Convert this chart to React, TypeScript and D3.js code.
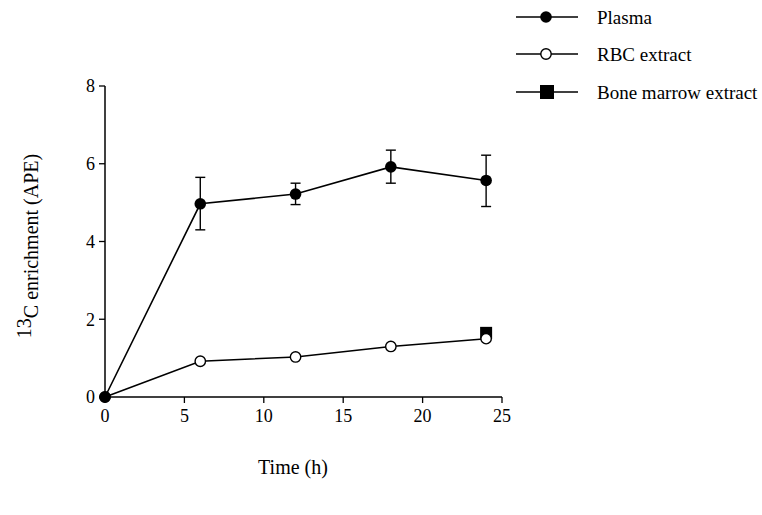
import React from 'react';
import * as d3 from 'd3';

// time points (h)
const times = [0, 6, 12, 18, 24];
const plasma = [0, 4.97, 5.22, 5.92, 5.57];
const plasmaHi = [0, 5.65, 5.5, 6.35, 6.22];
const plasmaLo = [0, 4.3, 4.95, 5.5, 4.9];
const rbc = [0, 0.92, 1.03, 1.3, 1.5];
const marrowTime = [24];
const marrow = [1.65];
const xTicks = [0, 5, 10, 15, 20, 25];
const yTicks = [0, 2, 4, 6, 8];
const legendLabels = ['Plasma', 'RBC extract', 'Bone marrow extract'];

const W = 762;
const H = 515;
const font = '"Liberation Serif", "DejaVu Serif", serif';

export default function App() {
  const x = d3.scaleLinear().domain([0, 25]).range([105, 502]);
  const y = d3.scaleLinear().domain([0, 8]).range([397, 86]);

  const line = d3
    .line<number>()
    .x((_, i) => x(times[i]))
    .y((d) => y(d));

  const legendY = [17, 54, 92];

  return (
    <svg width={W} height={H} style={{ position: 'absolute', left: 0, top: 0, background: '#fff' }}>
      {/* axes */}
      <line x1={x(0)} x2={x(0)} y1={y(0)} y2={y(8)} stroke="#000" strokeWidth={1.5} />
      <line x1={x(0)} x2={x(25)} y1={y(0)} y2={y(0)} stroke="#000" strokeWidth={1.5} />
      {yTicks.map((t) => (
        <g key={'y' + t}>
          <line x1={x(0) - 6} x2={x(0)} y1={y(t)} y2={y(t)} stroke="#000" strokeWidth={1.3} />
          <text x={x(0) - 10} y={y(t)} dy="0.35em" textAnchor="end" fontFamily={font} fontSize={18}>
            {t}
          </text>
        </g>
      ))}
      {xTicks.map((t) => (
        <g key={'x' + t}>
          <line x1={x(t)} x2={x(t)} y1={y(0)} y2={y(0) + 6} stroke="#000" strokeWidth={1.3} />
          <text x={x(t)} y={y(0) + 25} textAnchor="middle" fontFamily={font} fontSize={18}>
            {t}
          </text>
        </g>
      ))}

      {/* axis titles */}
      <text x={293} y={474} textAnchor="middle" fontFamily={font} fontSize={20}>
        Time (h)
      </text>
      <text
        transform={`translate(38,${246}) rotate(-90)`}
        textAnchor="middle"
        fontFamily={font}
        fontSize={20}
      >
        <tspan dy={-7}>13</tspan>
        <tspan dy={7}>C enrichment (APE)</tspan>
      </text>

      {/* lines */}
      <path d={line(plasma) || ''} fill="none" stroke="#000" strokeWidth={1.6} />
      <path d={line(rbc) || ''} fill="none" stroke="#000" strokeWidth={1.6} />

      {/* error bars */}
      {times.map((t, i) =>
        i === 0 ? null : (
          <g key={'e' + i} stroke="#000" strokeWidth={1.4}>
            <line x1={x(t)} x2={x(t)} y1={y(plasmaHi[i])} y2={y(plasmaLo[i])} />
            <line x1={x(t) - 5} x2={x(t) + 5} y1={y(plasmaHi[i])} y2={y(plasmaHi[i])} />
            <line x1={x(t) - 5} x2={x(t) + 5} y1={y(plasmaLo[i])} y2={y(plasmaLo[i])} />
          </g>
        )
      )}

      {/* bone marrow */}
      {marrow.map((v, i) => (
        <rect key={'m' + i} x={x(marrowTime[i]) - 6} y={y(v) - 6} width={12} height={12} fill="#000" />
      ))}

      {/* markers */}
      {rbc.map((v, i) => (
        <circle key={'r' + i} cx={x(times[i])} cy={y(v)} r={5.2} fill="#fff" stroke="#000" strokeWidth={1.4} />
      ))}
      {plasma.map((v, i) => (
        <circle key={'p' + i} cx={x(times[i])} cy={y(v)} r={5.8} fill="#000" />
      ))}

      {/* legend */}
      {legendLabels.map((lab, i) => (
        <g key={lab}>
          <line x1={516} x2={578} y1={legendY[i]} y2={legendY[i]} stroke="#000" strokeWidth={1.5} />
          {i === 0 && <circle cx={546} cy={legendY[i]} r={5.8} fill="#000" />}
          {i === 1 && <circle cx={546} cy={legendY[i]} r={5.2} fill="#fff" stroke="#000" strokeWidth={1.4} />}
          {i === 2 && <rect x={540} y={legendY[i] - 7} width={14} height={14} fill="#000" />}
          <text x={597} y={legendY[i]} dy="0.35em" fontFamily={font} fontSize={19}>
            {lab}
          </text>
        </g>
      ))}
    </svg>
  );
}
